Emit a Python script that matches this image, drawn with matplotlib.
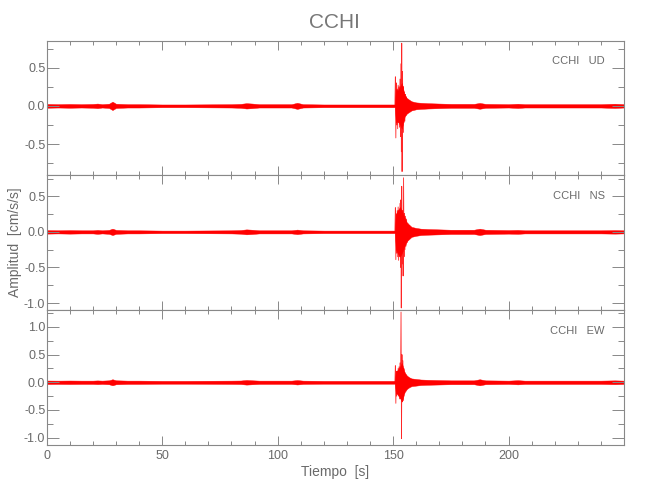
import matplotlib
matplotlib.use("Agg")
from matplotlib import pyplot as plt
from matplotlib.ticker import MultipleLocator, FixedLocator

plt.rcParams['font.family'] = ['Liberation Sans Narrow', 'Liberation Sans', 'DejaVu Sans']
plt.rcParams['axes.unicode_minus'] = True

station = "CCHI"
comps = ["UD", "NS", "EW"]

# envelope of the background trace (half width, cm/s/s)
t_env = [0, 5, 10, 15, 20, 22, 24, 27, 28.5, 30,
         35, 40, 50, 60, 70, 80, 84, 86.5, 89, 92,
         100, 106, 108.5, 111, 120, 130, 140, 150, 150.8, 151.2,
         152, 153, 153.8, 155, 156, 157, 158, 160, 162, 165,
         170, 175, 180, 185, 187.5, 190, 200, 204, 207, 215,
         225, 235, 240, 246, 250]
ud_env = [0.025, 0.022, 0.025, 0.022, 0.025, 0.03, 0.022, 0.028, 0.055, 0.028,
          0.022, 0.022, 0.018, 0.018, 0.02, 0.022, 0.026, 0.035, 0.03, 0.022,
          0.022, 0.022, 0.04, 0.022, 0.018, 0.018, 0.018, 0.018, 0.018, 0.22,
          0.2, 0.25, 0.3, 0.14, 0.1, 0.08, 0.06, 0.045, 0.04, 0.035,
          0.03, 0.026, 0.026, 0.026, 0.038, 0.026, 0.022, 0.028, 0.022, 0.022,
          0.022, 0.022, 0.022, 0.028, 0.022]
ns_env = [0.025, 0.022, 0.025, 0.022, 0.022, 0.028, 0.022, 0.028, 0.045, 0.028,
          0.022, 0.022, 0.018, 0.018, 0.02, 0.022, 0.026, 0.035, 0.03, 0.022,
          0.022, 0.022, 0.032, 0.022, 0.018, 0.018, 0.018, 0.018, 0.018, 0.25,
          0.3, 0.35, 0.3, 0.2, 0.13, 0.1, 0.07, 0.055, 0.045, 0.04,
          0.035, 0.03, 0.03, 0.03, 0.045, 0.03, 0.025, 0.028, 0.022, 0.022,
          0.022, 0.022, 0.022, 0.025, 0.022]
ew_env = [0.032, 0.03, 0.032, 0.03, 0.03, 0.034, 0.03, 0.036, 0.055, 0.036,
          0.03, 0.03, 0.026, 0.026, 0.028, 0.03, 0.032, 0.042, 0.036, 0.03,
          0.03, 0.03, 0.04, 0.03, 0.026, 0.026, 0.026, 0.026, 0.026, 0.2,
          0.22, 0.28, 0.35, 0.18, 0.12, 0.09, 0.07, 0.06, 0.05, 0.045,
          0.04, 0.035, 0.035, 0.035, 0.055, 0.035, 0.03, 0.038, 0.03, 0.03,
          0.03, 0.03, 0.03, 0.035, 0.03]

# main swings of the event (peak times and amplitudes)
ud_pk_t = [150.8, 151.0, 151.2, 151.4, 151.6, 151.8, 152.0, 152.2, 152.4, 152.6,
           152.8, 153.0, 153.2, 153.4, 153.6, 153.75, 153.9, 154.1, 154.3, 154.5,
           154.7, 154.9, 155.1, 155.3, 155.5, 155.8, 156.1, 156.4, 156.7, 157.0,
           157.4, 157.8, 158.2, 158.6, 159.0]
ud_pk_a = [0, 0.38, -0.42, 0.30, -0.25, 0.22, -0.30, 0.27, -0.22, 0.25,
           -0.28, 0.35, -0.40, 0.55, -0.60, 0.82, -0.86, 0.45, -0.35, 0.25,
           -0.22, 0.18, -0.20, 0.15, -0.13, 0.12, -0.10, 0.09, -0.08, 0.07,
           -0.06, 0.05, -0.045, 0.04, 0]
ns_pk_t = [150.8, 151.0, 151.2, 151.4, 151.6, 151.8, 152.0, 152.2, 152.4, 152.6,
           152.8, 153.0, 153.2, 153.4, 153.55, 153.75, 153.95, 154.15, 154.35, 154.55,
           154.75, 154.95, 155.15, 155.35, 155.6, 155.85, 156.1, 156.4, 156.7, 157.0,
           157.4, 157.8, 158.2, 158.6, 159.0]
ns_pk_a = [0, 0.34, -0.39, 0.25, -0.30, 0.30, -0.35, 0.35, -0.40, 0.30,
           -0.35, 0.40, -0.50, 0.45, -1.07, 0.64, -0.45, 0.30, -0.62, 0.76,
           -0.35, 0.26, -0.25, 0.22, -0.20, 0.18, -0.15, 0.12, -0.10, 0.09,
           -0.07, 0.06, -0.05, 0.045, 0]
ew_pk_t = [150.8, 151.0, 151.2, 151.4, 151.6, 151.8, 152.0, 152.2, 152.4, 152.6,
           152.8, 153.0, 153.2, 153.45, 153.65, 153.85, 154.05, 154.25, 154.45, 154.65,
           154.85, 155.1, 155.35, 155.6, 155.9, 156.2, 156.5, 156.8, 157.2, 157.6,
           158.0, 158.5, 159.0]
ew_pk_a = [0, 0.30, -0.38, 0.20, -0.25, 0.20, -0.20, 0.25, -0.25, 0.28,
           -0.30, 0.35, -0.30, 1.27, -1.02, 0.50, -0.35, 0.39, -0.33, 0.25,
           -0.20, 0.18, -0.15, 0.13, -0.12, 0.10, -0.09, 0.08, -0.07, 0.06,
           -0.05, 0.045, 0]

ylims = [(-0.907, 0.855), (-1.096, 0.797), (-1.125, 1.31)]
yticks = [[-0.5, 0.0, 0.5], [-1.0, -0.5, 0.0, 0.5], [-1.0, -0.5, 0.0, 0.5, 1.0]]
xticks = [0, 50, 100, 150, 200]

envs = [ud_env, ns_env, ew_env]
pk_t = [ud_pk_t, ns_pk_t, ew_pk_t]
pk_a = [ud_pk_a, ns_pk_a, ew_pk_a]

gray = '#888888'
txt = '#6a6a6a'
fig, axes = plt.subplots(3, 1, figsize=(6.5, 5), dpi=100, sharex=True)
fig.subplots_adjust(left=0.0718, right=0.96, bottom=0.111, top=0.919, hspace=0)

for i, ax in enumerate(axes):
    env = envs[i]
    ax.fill_between(t_env, [-v for v in env], env, color='red', lw=0.3)
    ax.plot(pk_t[i], pk_a[i], color='red', lw=0.6, alpha=0.85)
    ax.set_xlim(0, 250)
    ax.set_ylim(*ylims[i])
    ax.yaxis.set_major_locator(FixedLocator(yticks[i]))
    ax.yaxis.set_minor_locator(MultipleLocator(0.25))
    ax.xaxis.set_major_locator(FixedLocator(xticks))
    ax.xaxis.set_minor_locator(FixedLocator(range(0, 250, 10)))
    ax.set_yticklabels(['%.1f' % v for v in yticks[i]])
    for s in ax.spines.values():
        s.set_color(gray)
        s.set_linewidth(0.8)
    ax.tick_params(axis='x', which='both', direction='in', top=True, bottom=True,
                   colors=gray, labelcolor=txt, labelsize=9, width=0.7)
    ax.tick_params(axis='x', which='major', length=6.5, pad=4)
    ax.tick_params(axis='x', which='minor', length=3.2)
    ax.tick_params(axis='y', which='both', direction='in', left=True, right=True,
                   colors=gray, labelcolor=txt, labelsize=9, width=0.7)
    ax.tick_params(axis='y', which='major', length=8.5, pad=1)
    ax.tick_params(axis='y', which='minor', length=4.5)
    ax.text(0.967, 0.845, station + "   " + comps[i], transform=ax.transAxes,
            ha='right', va='center', fontsize=8, color=txt)

axes[2].set_xticklabels([str(v) for v in xticks])
axes[2].set_xlabel('Tiempo  [s]', fontsize=10, color=txt, labelpad=2)
fig.text(0.023, 0.515, 'Amplitud  [cm/s/s]', rotation=90, ha='center', va='center',
         fontsize=10, color=txt)
fig.suptitle(station, x=0.515, y=0.975, fontsize=15, color='#777777')

fig.savefig('out.png', dpi=100)
